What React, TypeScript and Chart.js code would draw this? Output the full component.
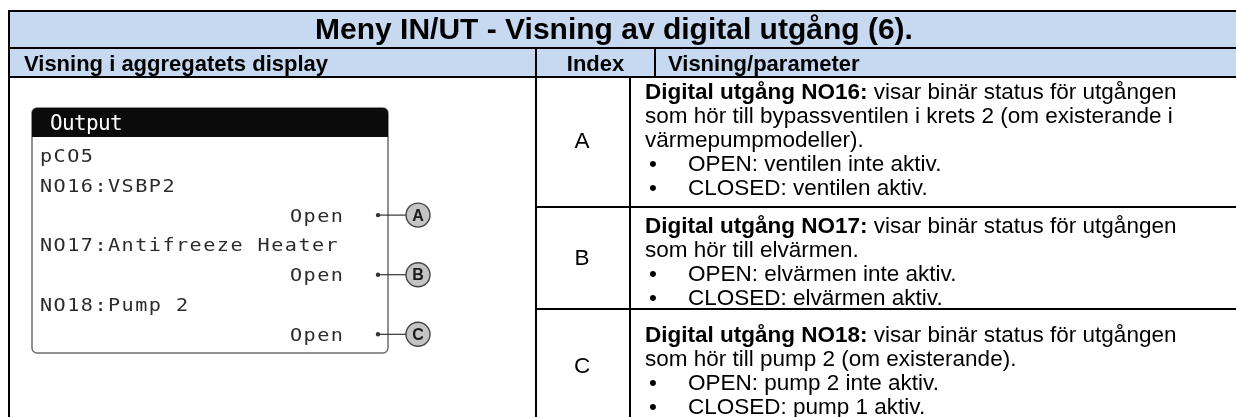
import React, { useEffect, useRef } from "react";
import { Chart, registerables } from "chart.js";

Chart.register(...registerables);

// ---- content ----
const TITLE = "Meny IN/UT - Visning av digital utgång (6).";
const HEADERS = ["Visning i aggregatets display", "Index", "Visning/parameter"];
const INDEX_LABELS = ["A", "B", "C"];
const DISPLAY_TITLE = "Output";
const DISPLAY_FIRST_LINE = "pCO5";
const OUTPUT_NAMES = ["NO16:VSBP2", "NO17:Antifreeze Heater", "NO18:Pump 2"];
const OUTPUT_STATES = ["Open", "Open", "Open"];
const DESC_HEADS = ["Digital utgång NO16:", "Digital utgång NO17:", "Digital utgång NO18:"];
const DESC_LINES = [
  [" visar binär status för utgången", "som hör till bypassventilen i krets 2 (om existerande i", "värmepumpmodeller)."],
  [" visar binär status för utgången", "som hör till elvärmen."],
  [" visar binär status för utgången", "som hör till pump 2 (om existerande)."],
];
const DESC_BULLETS = [
  ["OPEN: ventilen inte aktiv.", "CLOSED: ventilen aktiv."],
  ["OPEN: elvärmen inte aktiv.", "CLOSED: elvärmen aktiv."],
  ["OPEN: pump 2 inte aktiv.", "CLOSED: pump 1 aktiv."],
];

const W = 1236;
const H = 417;
const SANS = '"Liberation Sans", Arial, sans-serif';
const MONO = '"DejaVu Sans Mono", "Liberation Mono", monospace';
const HEAD_BG = "#c6d9f1";

const tablePlugin = {
  id: "tableDraw",
  afterDraw(chart: any) {
    const ctx: CanvasRenderingContext2D = chart.ctx;
    const sx = chart.scales.x;
    const sy = chart.scales.y;
    const X = (v: number) => sx.getPixelForValue(v);
    const Y = (v: number) => sy.getPixelForValue(v);

    const L = 9, T = 11, R = 1250;
    const HDR = 48, BODY = 77;
    const C1 = 536, C2H = 655, C2B = 630;
    const ROW_LINES = [207, 309];
    const ROW_BASE = [99, 233, 342];
    const ROW_MID = [142, 259, 367];
    const STEP = 24;
    const BODY_FONT = 22.5;

    ctx.save();
    ctx.fillStyle = "#ffffff";
    ctx.fillRect(X(0), Y(0), X(W) - X(0), Y(H) - Y(0));
    ctx.fillStyle = HEAD_BG;
    ctx.fillRect(X(L), Y(T), X(R) - X(L), Y(BODY) - Y(T));

    ctx.strokeStyle = "#000";
    ctx.lineWidth = 2;
    const line = (x1: number, y1: number, x2: number, y2: number) => {
      ctx.beginPath();
      ctx.moveTo(X(x1), Y(y1));
      ctx.lineTo(X(x2), Y(y2));
      ctx.stroke();
    };
    line(L - 1, T, R, T);
    line(L, HDR, R, HDR);
    line(L, BODY, R, BODY);
    line(L, T - 1, L, H + 5);
    line(C1, HDR, C1, H + 5);
    line(C2H, HDR, C2H, BODY);
    line(C2B, BODY, C2B, H + 5);
    ROW_LINES.forEach((y) => line(C1, y, R, y));

    // title
    ctx.fillStyle = "#000";
    ctx.textBaseline = "alphabetic";
    ctx.font = `bold 30px ${SANS}`;
    ctx.textAlign = "center";
    ctx.fillText(TITLE, X(614), Y(39));

    // headers
    ctx.font = `bold 22px ${SANS}`;
    ctx.textAlign = "left";
    ctx.fillText(HEADERS[0], X(24), Y(71));
    ctx.textAlign = "center";
    ctx.fillText(HEADERS[1], X((C1 + C2H) / 2), Y(71));
    ctx.textAlign = "left";
    ctx.fillText(HEADERS[2], X(668), Y(71));

    // index letters
    ctx.font = `${BODY_FONT}px ${SANS}`;
    ctx.textAlign = "center";
    ctx.textBaseline = "middle";
    INDEX_LABELS.forEach((lab, i) => ctx.fillText(lab, X(582), Y(ROW_MID[i])));

    // descriptions
    ctx.textAlign = "left";
    ctx.textBaseline = "alphabetic";
    DESC_HEADS.forEach((head, i) => {
      let y = ROW_BASE[i];
      ctx.font = `bold ${BODY_FONT}px ${SANS}`;
      ctx.fillText(head, X(645), Y(y));
      const hw = ctx.measureText(head).width;
      ctx.font = `${BODY_FONT}px ${SANS}`;
      const lines = DESC_LINES[i];
      ctx.fillText(lines[0], X(645) + hw, Y(y));
      for (let k = 1; k < lines.length; k++) {
        y += STEP;
        ctx.fillText(lines[k], X(645), Y(y));
      }
      DESC_BULLETS[i].forEach((b) => {
        y += STEP;
        ctx.fillText("•", X(649), Y(y));
        ctx.fillText(b, X(688), Y(y));
      });
    });

    // display box
    const bx = 32, by = 108, bw = 356, bh = 245, rad = 5;
    ctx.beginPath();
    ctx.roundRect(X(bx), Y(by), X(bx + bw) - X(bx), Y(by + bh) - Y(by), rad);
    ctx.fillStyle = "#ffffff";
    ctx.fill();
    ctx.strokeStyle = "#6e6e6e";
    ctx.lineWidth = 1.5;
    ctx.stroke();
    ctx.beginPath();
    ctx.roundRect(X(bx), Y(by), X(bx + bw) - X(bx), Y(by + 29) - Y(by), [rad, rad, 0, 0]);
    ctx.fillStyle = "#0b0b0b";
    ctx.fill();

    const mono = (text: string, x: number, base: number, adv: number, sxf: number) => {
      for (let i = 0; i < text.length; i++) {
        ctx.save();
        ctx.translate(X(x + i * adv), Y(base));
        ctx.scale(sxf, 1);
        ctx.fillText(text[i], 0, 0);
        ctx.restore();
      }
    };
    ctx.textAlign = "left";
    ctx.textBaseline = "alphabetic";
    ctx.fillStyle = "#ffffff";
    ctx.font = `21px ${MONO}`;
    mono(DISPLAY_TITLE, 50, 130, 12, 1.0);

    const ADV = 13.6;
    const LINE0 = 155.5, DSTEP = 29.8;
    const textCol = "#2b2b2b";
    OUTPUT_NAMES.forEach((name, i) => {
      const yName = LINE0 + DSTEP * (1 + 2 * i);
      const yState = yName + DSTEP;
      ctx.fillStyle = textCol;
      ctx.font = `18px ${MONO}`;
      if (i === 0) mono(DISPLAY_FIRST_LINE, 40, LINE0 + 6.5, ADV, 1.12);
      mono(name, 40, yName + 6.5, ADV, 1.12);
      mono(OUTPUT_STATES[i], 290, yState + 6.5, ADV, 1.12);
      // callout
      ctx.fillStyle = "#333";
      ctx.beginPath();
      ctx.arc(X(378), Y(yState), 2.2, 0, Math.PI * 2);
      ctx.fill();
      ctx.strokeStyle = "#333";
      ctx.lineWidth = 1.2;
      ctx.beginPath();
      ctx.moveTo(X(378), Y(yState));
      ctx.lineTo(X(406), Y(yState));
      ctx.stroke();
      ctx.beginPath();
      ctx.arc(X(418), Y(yState), 12, 0, Math.PI * 2);
      ctx.fillStyle = "#c4c4c4";
      ctx.fill();
      ctx.strokeStyle = "#444";
      ctx.lineWidth = 1.4;
      ctx.stroke();
      ctx.fillStyle = "#1a1a1a";
      ctx.font = `bold 16px ${SANS}`;
      ctx.textAlign = "center";
      ctx.textBaseline = "middle";
      ctx.fillText(INDEX_LABELS[i], X(418), Y(yState + 1));
      ctx.textAlign = "left";
      ctx.textBaseline = "alphabetic";
    });
    ctx.restore();
  },
};

export default function App() {
  const ref = useRef<HTMLCanvasElement | null>(null);
  useEffect(() => {
    document.body.style.margin = "0";
    const canvas = ref.current;
    if (!canvas) return;
    const chart = new Chart(canvas, {
      type: "scatter",
      data: { datasets: [] },
      options: {
        animation: false,
        responsive: false,
        devicePixelRatio: 1,
        layout: { padding: 0 },
        plugins: { legend: { display: false }, tooltip: { enabled: false } },
        scales: {
          x: { type: "linear", min: 0, max: W, display: false },
          y: { type: "linear", min: 0, max: H, reverse: true, display: false },
        },
      },
      plugins: [tablePlugin],
    } as any);
    return () => chart.destroy();
  }, []);
  return (
    <div style={{ width: W, height: H }}>
      <canvas ref={ref} width={W} height={H} style={{ display: "block" }} />
    </div>
  );
}
